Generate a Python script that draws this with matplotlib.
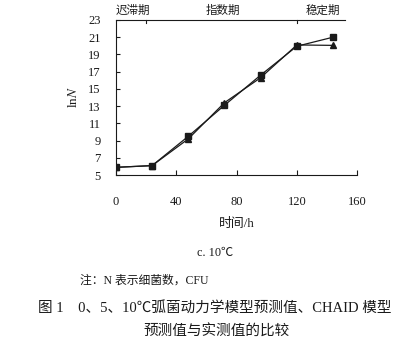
import matplotlib
matplotlib.use("Agg")
from matplotlib import pyplot as plt

plt.rcParams['font.family'] = ['Liberation Serif', 'Noto Sans CJK SC', 'DejaVu Sans']
plt.rcParams['mathtext.fontset'] = 'stix'

# data
hours = [0, 24, 48, 72, 96, 120, 144]
lnN_sq = [5.9, 6.1, 9.5, 13.1, 16.6, 19.95, 21.0]
lnN_tri = [5.9, 6.1, 9.2, 13.4, 16.3, 20.1, 20.05]

x_ticks = [0, 40, 80, 120, 160]
y_ticks = [5, 7, 9, 11, 13, 15, 17, 19, 21, 23]
phase_names = ["迟滞期", "指数期", "稳定期"]
phase_x = [11, 71, 137]
phase_bounds = [20, 120]

ink = "#1a1a1a"

fig = plt.figure(figsize=(4.11, 3.44), dpi=100)
ax = fig.add_axes([0.282, 0.491, 0.587, 0.451])

ax.plot(hours, lnN_tri, color=ink, lw=0.9, marker="^", ms=4.5)
ax.plot(hours, lnN_sq, color=ink, lw=0.9, marker="s", ms=4.5)

ax.set_xlim(0, 160)
ax.set_ylim(5, 23)
ax.set_xticks(x_ticks)
ax.set_yticks(y_ticks)
ax.tick_params(axis="x", direction="in", length=3.5, pad=15, labelsize=9, colors=ink, width=0.8)
ax.tick_params(axis="y", direction="in", length=3, pad=11, labelsize=9, colors=ink, width=0.8)
for s in ["top", "right"]:
    ax.spines[s].set_visible(False)
for s in ["left", "bottom"]:
    ax.spines[s].set_color(ink)
    ax.spines[s].set_linewidth(0.8)

# phase line on top
ax.plot([0, 152], [23, 23], color=ink, lw=0.8, clip_on=False)
for b in phase_bounds:
    ax.plot([b, b], [23, 22.6], color=ink, lw=0.8, clip_on=False)
for name, px in zip(phase_names, phase_x):
    ax.text(px, 23.35, name, ha="center", va="bottom", fontsize=8.3, color=ink)

ax.set_ylabel("ln$N$", fontsize=9.5, color=ink, labelpad=6)
ax.set_xlabel("时间/h", fontsize=9.3, color=ink, labelpad=7)

fig.text(215 / 411, 1 - 253 / 344, "c. 10℃", ha="center", va="center", fontsize=8.8, color=ink)
fig.text(80 / 411, 1 - 281 / 344, "注：N 表示细菌数，CFU", ha="left", va="center", fontsize=8.5, color=ink)
fig.text(215 / 411, 1 - 308 / 344, "图 1　0、5、10℃弧菌动力学模型预测值、CHAID 模型",
         ha="center", va="center", fontsize=10.5, color=ink)
fig.text(217 / 411, 1 - 332 / 344, "预测值与实测值的比较", ha="center", va="center", fontsize=10.5, color=ink)

fig.savefig("out.png", dpi=100)
